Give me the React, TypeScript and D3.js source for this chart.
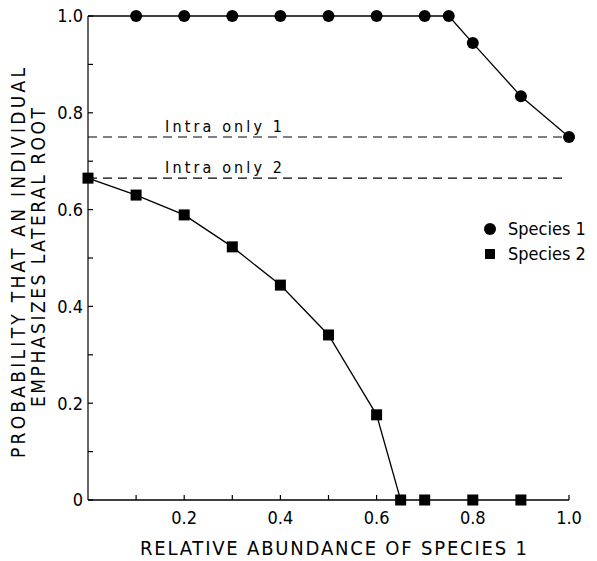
import React, { useEffect, useRef } from "react";
import * as d3 from "d3";

// relative abundance of species 1 (x) and probability values
const species1X = [0, 0.1, 0.2, 0.3, 0.4, 0.5, 0.6, 0.7, 0.75, 0.8, 0.9, 1.0];
const species1Y = [1.0, 1.0, 1.0, 1.0, 1.0, 1.0, 1.0, 1.0, 1.0, 0.944, 0.834, 0.75];
const species2X = [0, 0.1, 0.2, 0.3, 0.4, 0.5, 0.6, 0.65, 0.7, 0.8, 0.9];
const species2Y = [0.665, 0.63, 0.589, 0.523, 0.444, 0.341, 0.176, 0, 0, 0, 0];
const intraLevels = [0.75, 0.665];
const intraLabels = ["Intra only 1", "Intra only 2"];
const intraEnds = [1.0, 0.99];
const xTickLabels = [0.2, 0.4, 0.6, 0.8, 1.0];
const yTickLabels = [0, 0.2, 0.4, 0.6, 0.8, 1.0];
const minorTicks = [0.1, 0.3, 0.5, 0.7, 0.9];
const legendNames = ["Species 1", "Species 2"];

const FONT = "'DejaVu Sans Condensed', 'DejaVu Sans', sans-serif";

export default function App() {
  const svgRef = useRef<SVGSVGElement>(null);

  useEffect(() => {
    const width = 597;
    const height = 561;
    const svg = d3.select(svgRef.current).attr("width", width).attr("height", height);
    svg.selectAll("*").remove();

    const x = d3.scaleLinear().domain([0, 1]).range([88, 569]);
    const y = d3.scaleLinear().domain([0, 1]).range([500, 16]);

    const g = svg.append("g").attr("font-family", FONT).attr("fill", "#000");

    // axes lines
    g.append("line")
      .attr("x1", x(0)).attr("x2", x(0))
      .attr("y1", y(0)).attr("y2", y(1))
      .attr("stroke", "#000").attr("stroke-width", 1.2);
    g.append("line")
      .attr("x1", x(0)).attr("x2", x(1))
      .attr("y1", y(0)).attr("y2", y(0))
      .attr("stroke", "#000").attr("stroke-width", 1.4);

    // y ticks, pointing inward
    const yTicks = yTickLabels.concat(minorTicks);
    g.selectAll(".ytick")
      .data(yTicks)
      .join("line")
      .attr("x1", x(0)).attr("x2", x(0) + 5)
      .attr("y1", (d) => y(d)).attr("y2", (d) => y(d))
      .attr("stroke", "#000").attr("stroke-width", 1.2);
    g.selectAll(".ylab")
      .data(yTickLabels)
      .join("text")
      .attr("x", x(0) - 5)
      .attr("y", (d) => y(d))
      .attr("dy", "0.36em")
      .attr("text-anchor", "end")
      .attr("font-size", 18)
      .text((d) => (d === 0 ? "0" : d3.format(".1f")(d)));

    // x ticks, pointing up
    const xTicks = d3.range(1, 11).map((i) => i / 10);
    g.selectAll(".xtick")
      .data(xTicks)
      .join("line")
      .attr("x1", (d) => x(d)).attr("x2", (d) => x(d))
      .attr("y1", y(0)).attr("y2", y(0) - 5)
      .attr("stroke", "#000").attr("stroke-width", 1.2);
    g.selectAll(".xlab")
      .data(xTickLabels)
      .join("text")
      .attr("x", (d) => x(d))
      .attr("y", 524)
      .attr("text-anchor", "middle")
      .attr("font-size", 18)
      .text((d) => d3.format(".1f")(d));

    // axis titles
    g.append("text")
      .attr("x", 140).attr("y", 555)
      .attr("font-size", 20)
      .attr("textLength", 387)
      .attr("lengthAdjust", "spacing")
      .text("RELATIVE  ABUNDANCE OF SPECIES 1");
    g.append("text")
      .attr("transform", "translate(25,458) rotate(-90)")
      .attr("font-size", 19)
      .attr("textLength", 390)
      .attr("lengthAdjust", "spacing")
      .text("PROBABILITY THAT AN INDIVIDUAL");
    g.append("text")
      .attr("transform", "translate(45,407) rotate(-90)")
      .attr("font-size", 19)
      .attr("textLength", 299)
      .attr("lengthAdjust", "spacing")
      .text("EMPHASIZES LATERAL ROOT");

    // intra-only reference lines
    intraLevels.forEach((lv, i) => {
      g.append("line")
        .attr("x1", x(0)).attr("x2", x(intraEnds[i]))
        .attr("y1", y(lv)).attr("y2", y(lv))
        .attr("stroke", "#000").attr("stroke-width", 1.1)
        .attr("stroke-dasharray", "9,6");
      g.append("text")
        .attr("x", 165)
        .attr("y", y(lv) - 5)
        .attr("font-size", 16)
        .attr("textLength", 117)
        .attr("lengthAdjust", "spacing")
        .text(intraLabels[i]);
    });

    // species 1
    const s1 = species1X.map((v, i) => [x(v), y(species1Y[i])] as [number, number]);
    g.append("path")
      .attr("d", d3.line()(s1))
      .attr("fill", "none").attr("stroke", "#000").attr("stroke-width", 1.3);
    g.selectAll(".s1")
      .data(s1.slice(1))
      .join("circle")
      .attr("cx", (d) => d[0]).attr("cy", (d) => d[1])
      .attr("r", 6);

    // species 2
    const s2 = species2X.map((v, i) => [x(v), y(species2Y[i])] as [number, number]);
    g.append("path")
      .attr("d", d3.line()(s2.slice(0, 8)))
      .attr("fill", "none").attr("stroke", "#000").attr("stroke-width", 1.3);
    const sq = 11;
    g.selectAll(".s2")
      .data(s2)
      .join("rect")
      .attr("x", (d) => d[0] - sq / 2).attr("y", (d) => d[1] - sq / 2)
      .attr("width", sq).attr("height", sq);

    // legend
    const lg = g.append("g").attr("transform", "translate(490,229)");
    lg.append("circle").attr("cx", 0).attr("cy", 0).attr("r", 6);
    lg.append("rect").attr("x", -5).attr("y", 20).attr("width", 10).attr("height", 10);
    legendNames.forEach((n, i) => {
      lg.append("text")
        .attr("x", 18)
        .attr("y", i * 25)
        .attr("dy", "0.36em")
        .attr("font-size", 18)
        .text(n);
    });
  }, []);

  return (
    <div style={{ position: "absolute", left: 0, top: 0, background: "#fff" }}>
      <svg ref={svgRef}></svg>
    </div>
  );
}
